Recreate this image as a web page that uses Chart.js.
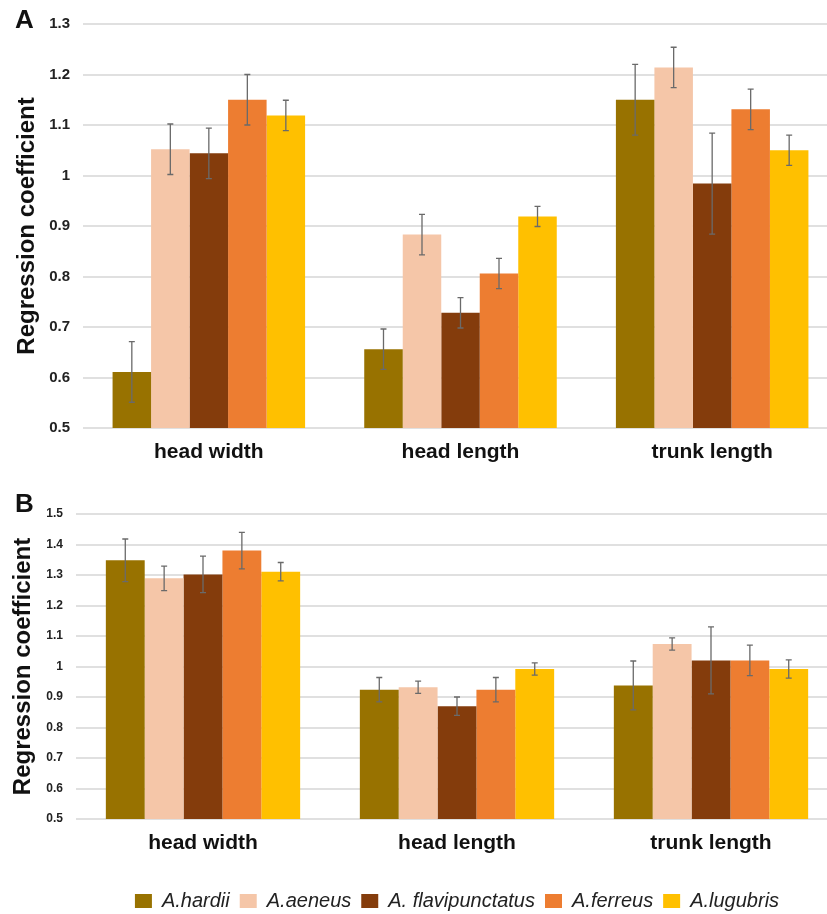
<!DOCTYPE html>
<html>
<head>
<meta charset="utf-8">
<script src="https://cdn.jsdelivr.net/npm/chart.js@4.4.1/dist/chart.umd.min.js"></script>
<style>
  html, body { margin: 0; padding: 0; background: #fff; width: 827px; height: 914px; overflow: hidden; }
  .panel { position: absolute; left: 0; }
  .tag { position: absolute; left: 15px; font: bold 26px "Liberation Sans", Arial, sans-serif; color: #111; }
</style>
</head>
<body>
<div class="panel" style="top:0"><canvas id="chartA" width="845" height="470"></canvas></div>
<div class="panel" style="top:480px"><canvas id="chartB" width="845" height="460"></canvas></div>
<div class="tag" style="top:4px">A</div>
<div class="tag" style="top:488px">B</div>
<script>
const categories = ['head width', 'head length', 'trunk length'];
const species = ['A.hardii', 'A.aeneus', 'A. flavipunctatus', 'A.ferreus', 'A.lugubris'];
const speciesColors = ['#987200', '#F5C6A8', '#843C0C', '#ED7D31', '#FFC000'];

// panel A: one array per species, values for head width / head length / trunk length
const hardiiA = [0.611, 0.656, 1.150];
const aeneusA = [1.052, 0.883, 1.214];
const flavipunctatusA = [1.044, 0.728, 0.984];
const ferreusA = [1.150, 0.806, 1.131];
const lugubrisA = [1.119, 0.919, 1.050];

const hardiiErrA = [0.06, 0.04, 0.07];
const aeneusErrA = [0.05, 0.04, 0.04];
const flavipunctatusErrA = [0.05, 0.03, 0.10];
const ferreusErrA = [0.05, 0.03, 0.04];
const lugubrisErrA = [0.03, 0.02, 0.03];

// panel B
const hardiiB = [1.348, 0.924, 0.938];
const aeneusB = [1.289, 0.932, 1.074];
const flavipunctatusB = [1.302, 0.870, 1.020];
const ferreusB = [1.380, 0.924, 1.020];
const lugubrisB = [1.311, 0.992, 0.992];

const hardiiErrB = [0.07, 0.04, 0.08];
const aeneusErrB = [0.04, 0.02, 0.02];
const flavipunctatusErrB = [0.06, 0.03, 0.11];
const ferreusErrB = [0.06, 0.04, 0.05];
const lugubrisErrB = [0.03, 0.02, 0.03];

const FONT = '"Liberation Sans", Arial, sans-serif';

// whiskers drawn from the y scale of each chart
const errorBars = {
  id: 'errorBars',
  afterDatasetsDraw(chart) {
    const ctx = chart.ctx;
    const y = chart.scales.y;
    ctx.save();
    ctx.strokeStyle = '#6a6a6a';
    ctx.lineWidth = 1.3;
    chart.data.datasets.forEach((ds, i) => {
      chart.getDatasetMeta(i).data.forEach((bar, j) => {
        const top = y.getPixelForValue(ds.data[j] + ds.errors[j]);
        const bot = y.getPixelForValue(ds.data[j] - ds.errors[j]);
        ctx.beginPath();
        ctx.moveTo(bar.x, top); ctx.lineTo(bar.x, bot);
        ctx.moveTo(bar.x - 3, top); ctx.lineTo(bar.x + 3, top);
        ctx.moveTo(bar.x - 3, bot); ctx.lineTo(bar.x + 3, bot);
        ctx.stroke();
      });
    });
    ctx.restore();
  }
};

function makeChart(id, values, errors, o) {
  const datasets = species.map((name, i) => ({
    label: name,
    data: values[i],
    errors: errors[i],
    backgroundColor: speciesColors[i],
    borderColor: speciesColors[i],
    borderWidth: 0,
    categoryPercentage: 0.765,
    barPercentage: 1.0
  }));

  return new Chart(document.getElementById(id), {
    type: 'bar',
    data: { labels: categories, datasets },
    plugins: [errorBars],
    options: {
      responsive: false,
      animation: false,
      layout: { padding: { top: o.padTop, right: 7, left: 0, bottom: o.padBottom } },
      plugins: {
        tooltip: { enabled: false },
        legend: {
          display: o.legend,
          position: 'bottom',
          fullSize: false,
          labels: {
            boxWidth: 17,
            boxHeight: 14,
            padding: 10,
            color: '#222',
            font: { family: FONT, size: 20, style: 'italic' }
          }
        }
      },
      scales: {
        x: {
          grid: { display: false },
          border: { display: false },
          ticks: { color: '#111', padding: 4, font: { family: FONT, size: 21, weight: 'bold' } },
          afterFit: s => { s.height = o.xHeight; }
        },
        y: {
          min: o.min,
          max: o.max,
          grid: { color: '#e0e0e0', lineWidth: 2, drawTicks: false },
          border: { display: false },
          ticks: {
            stepSize: 0.1,
            padding: 13,
            color: '#222',
            font: { family: FONT, size: o.tickSize, weight: 'bold' },
            callback: v => String(Math.round(v * 10) / 10)
          },
          title: {
            display: true,
            text: 'Regression coefficient',
            color: '#111',
            padding: { top: o.titlePad, bottom: 0 },
            font: { family: FONT, size: 24, weight: 'bold' }
          },
          afterFit: s => { s.width = o.yWidth; }
        }
      }
    }
  });
}

makeChart('chartA',
  [hardiiA, aeneusA, flavipunctatusA, ferreusA, lugubrisA],
  [hardiiErrA, aeneusErrA, flavipunctatusErrA, ferreusErrA, lugubrisErrA],
  { min: 0.5, max: 1.3, padTop: 24, padBottom: 0, xHeight: 42, yWidth: 83, tickSize: 15, titlePad: 13, legend: false });

makeChart('chartB',
  [hardiiB, aeneusB, flavipunctatusB, ferreusB, lugubrisB],
  [hardiiErrB, aeneusErrB, flavipunctatusErrB, ferreusErrB, lugubrisErrB],
  { min: 0.5, max: 1.5, padTop: 34, padBottom: 19, xHeight: 62, yWidth: 76, tickSize: 12, titlePad: 9, legend: true });
</script>
</body>
</html>
